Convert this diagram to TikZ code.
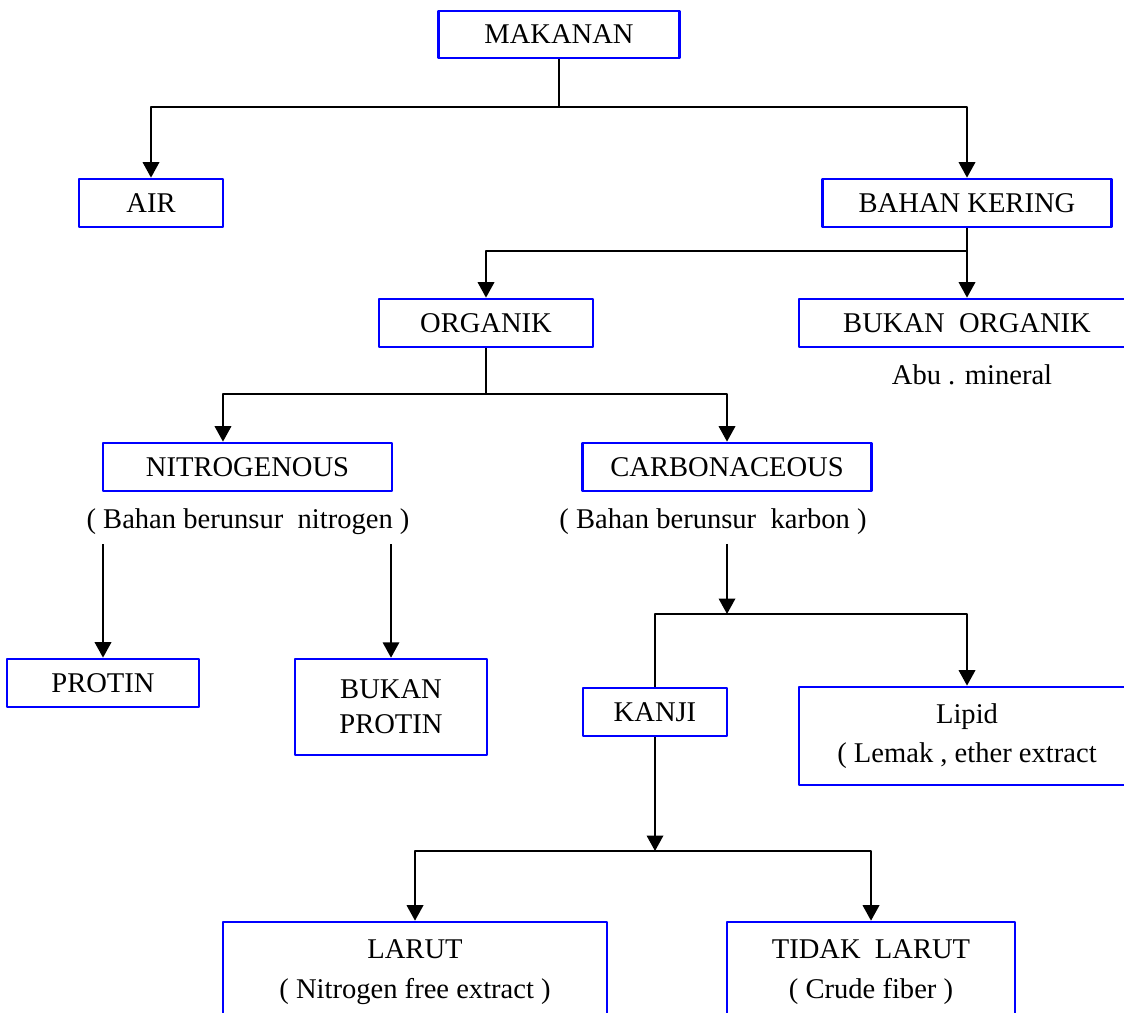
\documentclass[tikz,border=0pt]{standalone}
\usepackage{fontspec}
\setmainfont{Liberation Serif}
\usetikzlibrary{arrows.meta}

\begin{document}
\begin{tikzpicture}[x=0.42pt,y=-0.42pt,line width=0.9pt,line join=round,
  box/.style={draw=blue,line width=1.1pt,inner sep=0pt,minimum height=20.2pt,align=center,font=\fontsize{12}{17}\selectfont},
  note/.style={font=\fontsize{12}{14}\selectfont},
  arr/.style={-{Triangle[width=6.9pt,length=6.5pt]}}]
  \useasboundingbox (0,0) rectangle (1124,1012);
  \clip (0,0) rectangle (1124,1012);
  % boxes
  \node[box,minimum width=101.2pt,minimum height=19.7pt] (makanan) at (559,34.5) {MAKANAN};
  \node[box,minimum width=60.5pt] (air) at (151,203) {AIR};
  \node[box,minimum width=121.4pt] (kering) at (967,203) {BAHAN KERING};
  \node[box,minimum width=89.9pt] (organik) at (486,323) {ORGANIK};
  \node[box,minimum width=141.1pt] (bukanorg) at (967,323) {BUKAN\ \ ORGANIK};
  \node[note] (abu) at (972,375) {Abu . mineral};
  \node[box,minimum width=121.4pt] (nitro) at (247.5,467) {NITROGENOUS};
  \node[note] (nitronote) at (248,522) {( Bahan berunsur\ \ nitrogen )};
  \node[box,minimum width=121.4pt] (carbon) at (727,467) {CARBONACEOUS};
  \node[note] (carbnote) at (713,522) {( Bahan berunsur\ \ karbon )};
  \node[box,minimum width=80.6pt] (protin) at (103,683) {PROTIN};
  \node[box,minimum width=80.6pt,minimum height=40.3pt,font=\fontsize{12}{14.7}\selectfont] (bukanprot) at (391,707) {BUKAN\\PROTIN};
  \node[box,minimum width=60.5pt] (kanji) at (655,712) {KANJI};
  \node[box,minimum width=141.1pt,minimum height=41.2pt,font=\fontsize{12}{16.4}\selectfont] (lipid) at (967,736) {Lipid\\( Lemak , ether extract};
  \node[box,minimum width=161.3pt,minimum height=42pt] (larut) at (415,972) {LARUT\\( Nitrogen free extract )};
  \node[box,minimum width=121pt,minimum height=42pt] (tidak) at (871,972) {TIDAK\ \ LARUT\\( Crude fiber )};
  % junctions
  \coordinate (j1) at (559,107);
  \coordinate (j2) at (967,251);
  \coordinate (j3) at (486,394);
  \coordinate (j4) at (727,614);
  \coordinate (j5) at (655,851);
  % connectors
  \draw (makanan) -- (j1);
  \draw[arr] (j1) -| (air);
  \draw[arr] (j1) -| (kering);
  \draw[arr] (kering) -- (bukanorg);
  \draw[arr] (j2) -| (organik);
  \draw (organik) -- (j3);
  \draw[arr] (j3) -| ([xshift=-10.3pt]nitro.north);
  \draw[arr] (j3) -| (carbon);
  \draw[arr] (nitronote.south -| protin) -- (protin);
  \draw[arr] (nitronote.south -| bukanprot) -- (bukanprot);
  \draw[arr] (carbnote.south -| carbon) -- (j4);
  \draw (j4) -| (kanji);
  \draw[arr] (j4) -| (lipid);
  \draw[arr] (kanji) -- (j5);
  \draw[arr] (j5) -| (larut);
  \draw[arr] (j5) -| (tidak);
\end{tikzpicture}
\end{document}
